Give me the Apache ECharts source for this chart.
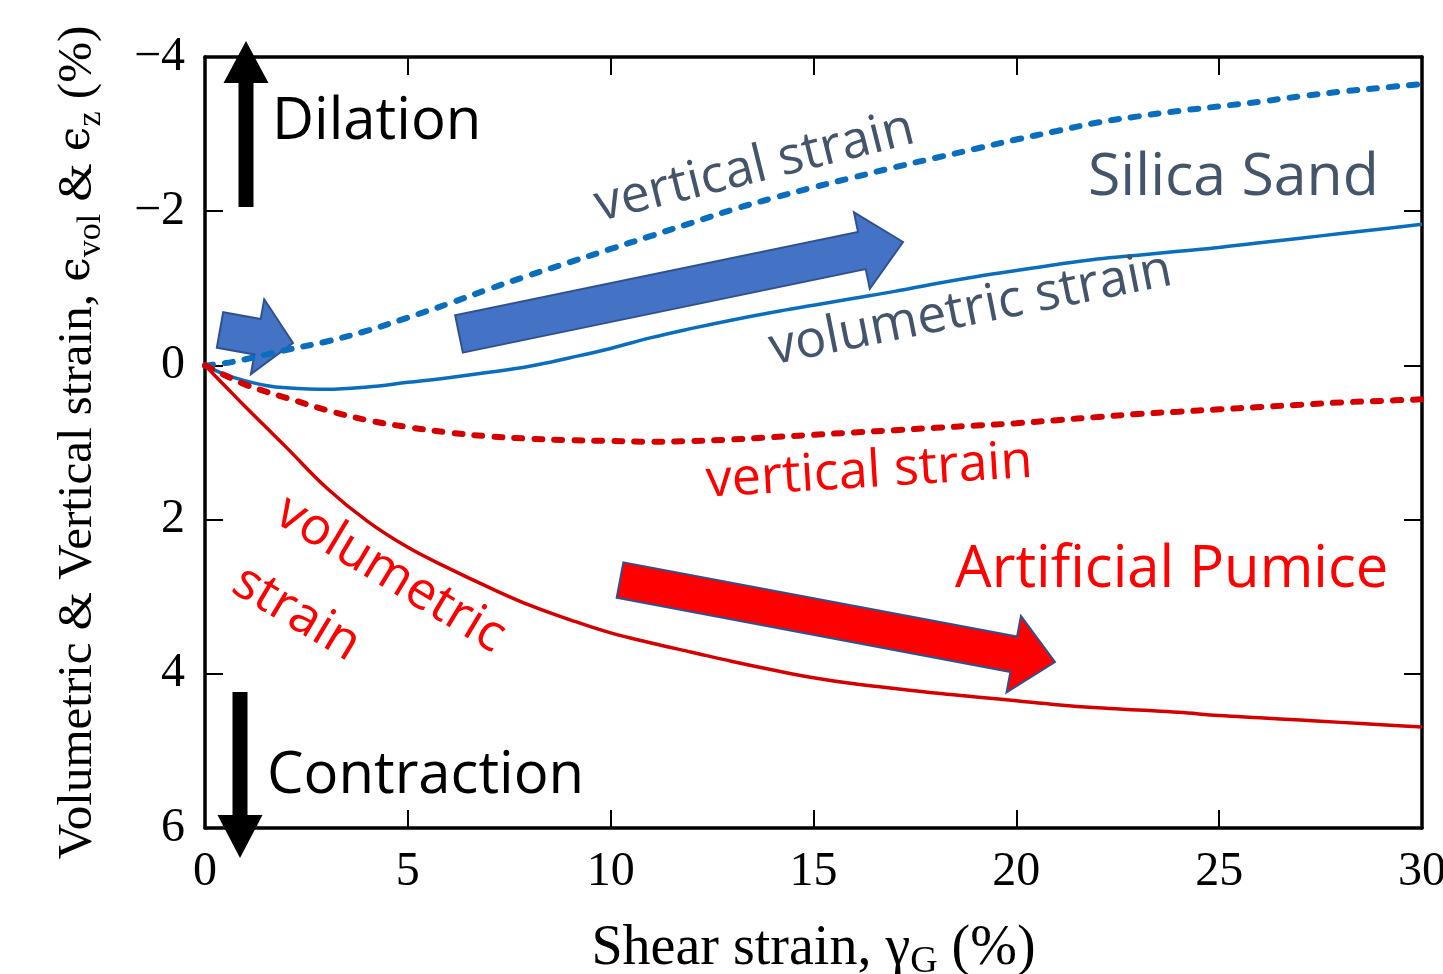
<!DOCTYPE html>
<html><head><meta charset="utf-8">
<script src="https://cdn.jsdelivr.net/npm/echarts@6/dist/echarts.min.js"></script>
<style>html,body{margin:0;padding:0;background:#fff}#c{width:1443px;height:974px}</style>
</head><body><div id="c"></div>
<script>
// ---- data ----
const shearStrain = [0,0.5,1,1.5,2,3,4,5,6,7,8,9,10,11,12,13,14,15,16,17,18,19,20,21,22,23,24,25,26,27,28,29,30];
const sandVertical = [0,-0.03,-0.08,-0.14,-0.2,-0.31,-0.45,-0.62,-0.8,-0.99,-1.17,-1.34,-1.51,-1.68,-1.85,-2.02,-2.17,-2.31,-2.44,-2.57,-2.69,-2.81,-2.93,-3.04,-3.15,-3.23,-3.30,-3.36,-3.42,-3.49,-3.55,-3.60,-3.65];
const sandVolumetric = [0,0.12,0.2,0.26,0.29,0.31,0.28,0.22,0.16,0.09,0.01,-0.1,-0.22,-0.36,-0.48,-0.59,-0.69,-0.78,-0.87,-0.96,-1.06,-1.15,-1.23,-1.31,-1.38,-1.43,-1.48,-1.53,-1.59,-1.65,-1.71,-1.77,-1.83];
const pumiceVertical = [0,0.13,0.25,0.34,0.42,0.58,0.71,0.8,0.87,0.92,0.95,0.97,0.98,0.99,0.98,0.96,0.93,0.9,0.87,0.84,0.81,0.78,0.75,0.71,0.67,0.63,0.6,0.57,0.54,0.51,0.48,0.46,0.44];
const pumiceVolumetric = [0,0.27,0.54,0.8,1.06,1.59,2.02,2.36,2.63,2.88,3.11,3.3,3.47,3.6,3.72,3.84,3.95,4.05,4.13,4.19,4.25,4.3,4.35,4.4,4.44,4.47,4.5,4.54,4.57,4.6,4.63,4.66,4.69];
const xTickLabels = ['0','5','10','15','20','25','30'];
const yTickLabels = ['\u22124','\u22122','0','2','4','6'];

const pairs = ys => shearStrain.map((x, i) => [x, ys[i]]);

const BLUE = '#0a6ebd', RED = '#d40000', SLATE = '#44546A';
const SERIF = '"Liberation Serif","Times New Roman",serif';
const SANS = '"Open Sans","Noto Sans",sans-serif';

function arrowPoly(x0, y0, x1, y1, sw, hw, hl) {
  const dx = x1 - x0, dy = y1 - y0, L = Math.hypot(dx, dy);
  const ux = dx / L, uy = dy / L, px = -uy, py = ux;
  const bx = x1 - ux * hl, by = y1 - uy * hl;
  return [[x0 + px * sw / 2, y0 + py * sw / 2], [bx + px * sw / 2, by + py * sw / 2],
          [bx + px * hw / 2, by + py * hw / 2], [x1, y1],
          [bx - px * hw / 2, by - py * hw / 2], [bx - px * sw / 2, by - py * sw / 2],
          [x0 - px * sw / 2, y0 - py * sw / 2]];
}
function arrow(pts, fill, stroke, z) {
  return { type: 'polygon', z: z, shape: { points: pts },
           style: { fill: fill, stroke: stroke || null, lineWidth: stroke ? 2 : 0 } };
}
function label(txt, x, y, size, color, deg) {
  return { type: 'text', z: 20, x: x, y: y, rotation: (deg || 0) * Math.PI / 180,
           style: { text: txt, fill: color, font: size + 'px ' + SANS,
                    textAlign: 'left', textVerticalAlign: 'middle' } };
}

const chart = echarts.init(document.getElementById('c'), null, { renderer: 'canvas' });

const axisLineStyle = { show: true, onZero: false, lineStyle: { color: '#000', width: 3.5 } };
const tickStyle = { show: true, inside: true, length: 18, lineStyle: { color: '#000', width: 2 } };

const option = {
  backgroundColor: '#fff',
  animation: false,
  grid: { left: 205, top: 57, right: 21, bottom: 146, containLabel: false, outerBoundsMode: 'none' },
  xAxis: [{
    type: 'value', min: 0, max: 30, interval: 5, position: 'bottom',
    axisLine: axisLineStyle, axisTick: tickStyle, splitLine: { show: false },
    axisLabel: { color: '#000', fontFamily: SERIF, fontSize: 48, margin: 20,
                 formatter: v => xTickLabels[Math.round(v / 5)] },
    name: '{n|Shear strain, }{g|\u03b3}{s|G}{n| (%)}',
    nameLocation: 'middle', nameGap: 89,
    nameTextStyle: { color: '#000', fontFamily: SERIF, fontSize: 56,
      rich: { n: { fontFamily: SERIF, fontSize: 56, lineHeight: 64, color: '#000', verticalAlign: 'middle' },
              g: { fontFamily: SERIF, fontSize: 56, lineHeight: 64, color: '#000', verticalAlign: 'middle' },
              s: { fontFamily: SERIF, fontSize: 38, lineHeight: 38, color: '#000', verticalAlign: 'bottom' } } }
  }, {
    type: 'value', min: 0, max: 30, interval: 5, position: 'top',
    axisLine: axisLineStyle, axisTick: tickStyle, splitLine: { show: false }, axisLabel: { show: false }
  }],
  yAxis: [{
    type: 'value', min: -4, max: 6, interval: 2, inverse: true, position: 'left',
    axisLine: axisLineStyle, axisTick: tickStyle, splitLine: { show: false },
    axisLabel: { color: '#000', fontFamily: SERIF, fontSize: 48, margin: 20,
                 formatter: v => yTickLabels[Math.round((v + 4) / 2)] },
    name: '{n|Volumetric & Vertical strain, }{e|\u03f5}{s|vol}{n| & }{e|\u03f5}{s|z}{n| (%)}',
    nameLocation: 'middle', nameGap: 97, nameRotate: 90,
    nameTextStyle: { color: '#000', fontFamily: SERIF, fontSize: 49,
      rich: { n: { fontFamily: SERIF, fontSize: 49, lineHeight: 60, color: '#000', verticalAlign: 'middle' },
              e: { fontFamily: '"DejaVu Serif",serif', fontSize: 44, lineHeight: 60, color: '#000', verticalAlign: 'middle' },
              s: { fontFamily: SERIF, fontSize: 34, lineHeight: 34, color: '#000', verticalAlign: 'bottom' } } }
  }, {
    type: 'value', min: -4, max: 6, interval: 2, inverse: true, position: 'right',
    axisLine: axisLineStyle, axisTick: tickStyle, splitLine: { show: false }, axisLabel: { show: false }
  }],
  series: [
    { name: 'Silica Sand vertical strain', type: 'line', data: pairs(sandVertical), smooth: 0.4,
      showSymbol: false, z: 5, lineStyle: { color: BLUE, width: 6, type: [8, 12], cap: 'round' } },
    { name: 'Silica Sand volumetric strain', type: 'line', data: pairs(sandVolumetric), smooth: 0.4,
      showSymbol: false, z: 5, lineStyle: { color: BLUE, width: 3.5 } },
    { name: 'Artificial Pumice vertical strain', type: 'line', data: pairs(pumiceVertical), smooth: 0.4,
      showSymbol: false, z: 5, lineStyle: { color: RED, width: 6, type: [8, 12], cap: 'round' } },
    { name: 'Artificial Pumice volumetric strain', type: 'line', data: pairs(pumiceVolumetric), smooth: 0.4,
      showSymbol: false, z: 5, lineStyle: { color: RED, width: 3.5 } }
  ],
  graphic: [
    arrow(arrowPoly(220, 330, 293, 343, 36, 76, 36), '#4472C4', '#2F528F', 1),
    arrow(arrowPoly(459, 334, 903, 242, 38, 78, 42), '#4472C4', '#2F528F', 1),
    arrow(arrowPoly(620, 580, 1055, 662, 36, 78, 42), '#FF0000', '#2F528F', 1),
    arrow(arrowPoly(246, 207, 246, 41, 15, 45, 42), '#000', null, 30),
    arrow(arrowPoly(240, 692, 240, 858, 15, 45, 43), '#000', null, 30),
    label('Dilation', 272, 122, 58, '#000'),
    label('Contraction', 267, 776, 58, '#000'),
    label('Silica Sand', 1088, 178, 59, SLATE),
    label('Artificial Pumice', 955, 570, 58, '#FF0000'),
    label('vertical strain', 596, 207, 52, SLATE, 14),
    label('volumetric strain', 770, 350, 52, SLATE, 11.3),
    label('vertical strain', 706, 482, 52, '#FF0000', 3.5),
    label('volumetric', 280, 508, 52, '#FF0000', -31),
    label('strain', 237, 578, 52, '#FF0000', -31)
  ]
};
chart.setOption(option);
</script>
</body></html>
